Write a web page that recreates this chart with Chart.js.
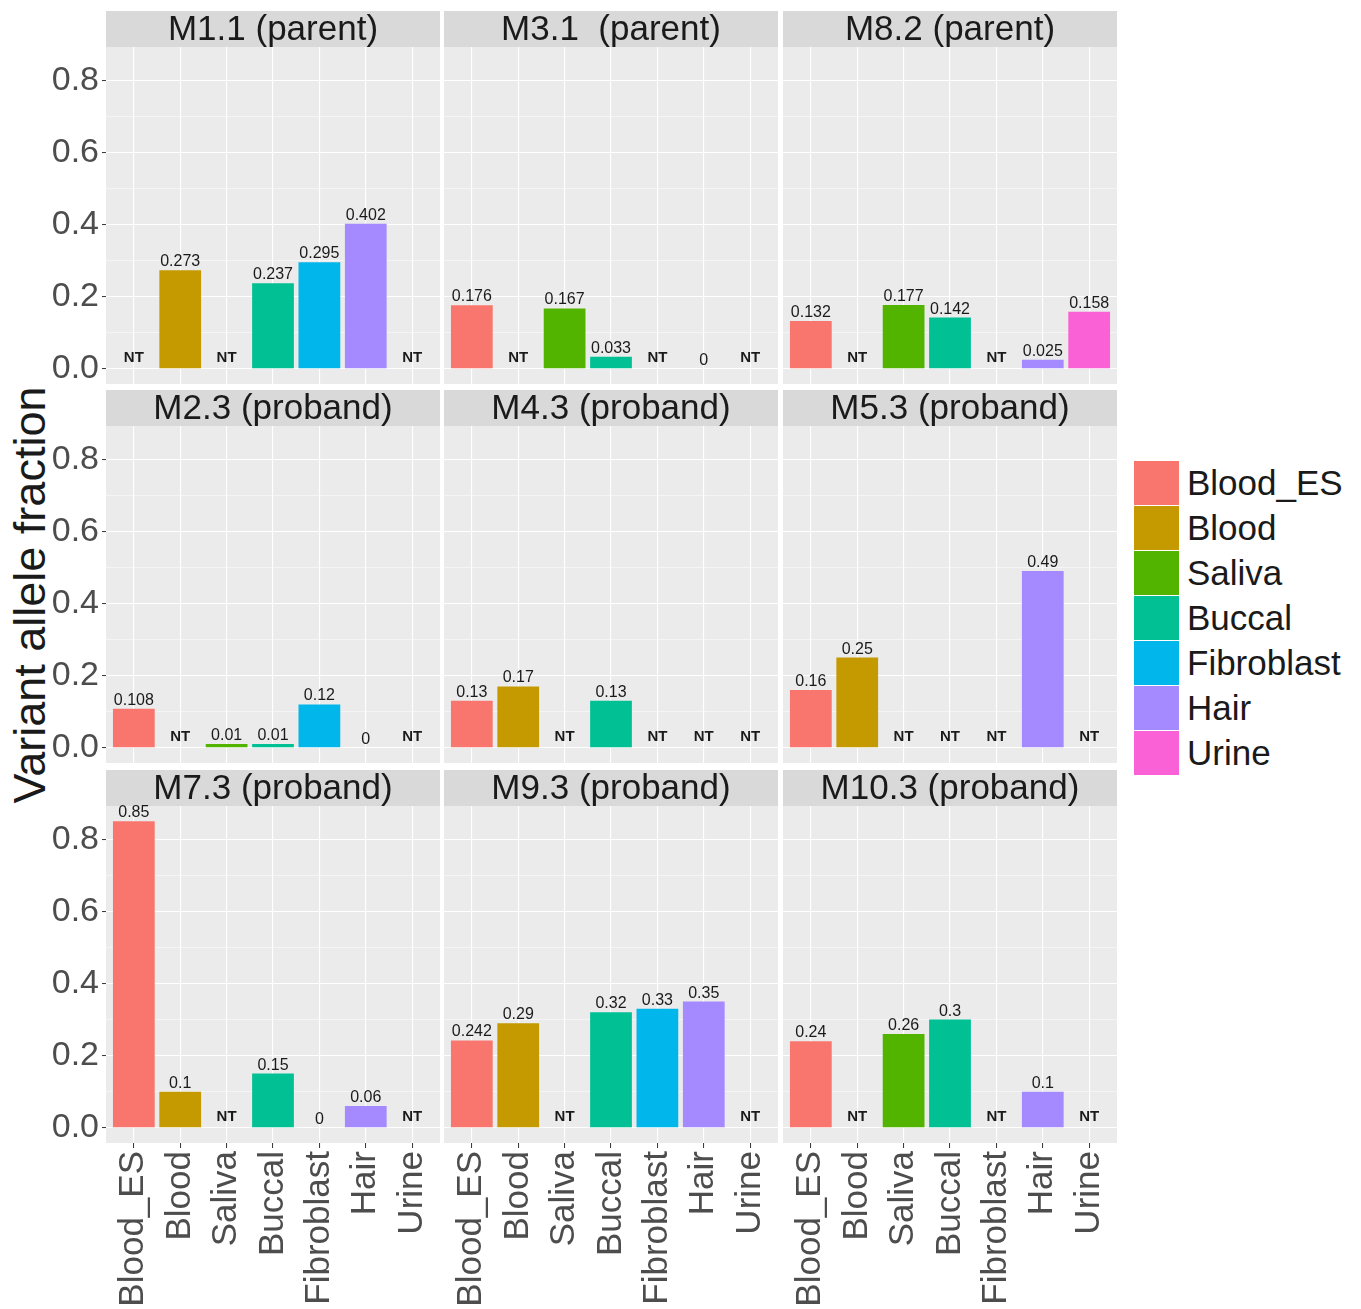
<!DOCTYPE html>
<html>
<head>
<meta charset="utf-8">
<script src="https://cdn.jsdelivr.net/npm/chart.js@4/dist/chart.umd.min.js"></script>
<style>
  body { margin: 0; background: #fff; width: 1361px; height: 1309px; position: relative; overflow: hidden;
         font-family: "Liberation Sans", Arial, sans-serif; }
  canvas { position: absolute; }
  #ylab { position: absolute; left: -270px; top: 570px; width: 600px; height: 50px; line-height: 50px;
          text-align: center; font-size: 45px; color: #1a1a1a; transform: rotate(-90deg); }
  #legend { position: absolute; left: 1134px; top: 460px; }
  .item { height: 45px; display: flex; align-items: center; }
  .key { width: 45px; height: 44px; margin-right: 8px; }
  .item span { font-size: 35px; color: #1a1a1a; }
</style>
</head>
<body>
<div id="ylab">Variant allele fraction</div>
<div id="legend"></div>
<script>
const tissues = ["Blood_ES", "Blood", "Saliva", "Buccal", "Fibroblast", "Hair", "Urine"];
const tissueColors = ["#F8766D", "#C49A00", "#53B400", "#00C094", "#00B6EB", "#A58AFF", "#FB61D7"];
const panelTitles = ["M1.1 (parent)", "M3.1  (parent)", "M8.2 (parent)",
                     "M2.3 (proband)", "M4.3 (proband)", "M5.3 (proband)",
                     "M7.3 (proband)", "M9.3 (proband)", "M10.3 (proband)"];
const yTicks = [0, 0.2, 0.4, 0.6, 0.8];

// null = not tested (NT)
const m1_1 = [null, 0.273, null, 0.237, 0.295, 0.402, null];
const m3_1 = [0.176, null, 0.167, 0.033, null, 0, null];
const m8_2 = [0.132, null, 0.177, 0.142, null, 0.025, 0.158];
const m2_3 = [0.108, null, 0.01, 0.01, 0.12, 0, null];
const m4_3 = [0.13, 0.17, null, 0.13, null, null, null];
const m5_3 = [0.16, 0.25, null, null, null, 0.49, null];
const m7_3 = [0.85, 0.1, null, 0.15, 0, 0.06, null];
const m9_3 = [0.242, 0.29, null, 0.32, 0.33, 0.35, null];
const m10_3 = [0.24, null, 0.26, 0.3, null, 0.1, null];
const panelValues = [m1_1, m3_1, m8_2, m2_3, m4_3, m5_3, m7_3, m9_3, m10_3];

const FONT = "'Liberation Sans', Arial, sans-serif";
const STRIP_H = 36, PANEL_H = 337, PANEL_W = 334;
const Y_AXIS_W = 106, X_AXIS_H = 165;
const panelLeft = [106, 444, 783];
const stripTop = [11, 390, 770];

const isMajor = v => yTicks.some(t => Math.abs(t - v) < 1e-6);

const stripPlugin = {
    id: "strip",
    beforeDraw(chart, args, opts) {
        const ctx = chart.ctx, a = chart.chartArea;
        ctx.save();
        ctx.fillStyle = "#D9D9D9";
        ctx.fillRect(a.left, a.top - STRIP_H, a.right - a.left, STRIP_H);
        ctx.fillStyle = "#EBEBEB";
        ctx.fillRect(a.left, a.top, a.right - a.left, a.bottom - a.top);
        ctx.fillStyle = "#1a1a1a";
        ctx.font = "35px " + FONT;
        ctx.textAlign = "center";
        ctx.textBaseline = "middle";
        ctx.fillText(opts.title, (a.left + a.right) / 2, a.top - STRIP_H / 2 + 1);
        ctx.restore();
    }
};

const labelPlugin = {
    id: "barLabels",
    afterDatasetsDraw(chart) {
        const ctx = chart.ctx, xs = chart.scales.x, ys = chart.scales.y;
        ctx.save();
        ctx.textAlign = "center";
        ctx.fillStyle = "#1a1a1a";
        chart.data.datasets[0].data.forEach(d => {
            const x = xs.getPixelForValue(d.x);
            if (d.y === null) {
                ctx.font = "bold 15px " + FONT;
                ctx.fillText("NT", x, ys.getPixelForValue(0) - 7);
            } else {
                ctx.font = "16px " + FONT;
                ctx.fillText(String(d.y), x, ys.getPixelForValue(d.y) - 4);
            }
        });
        ctx.restore();
    }
};

panelValues.forEach((values, idx) => {
    const r = Math.floor(idx / 3), c = idx % 3;
    const canvas = document.createElement("canvas");
    const w = PANEL_W + (c === 0 ? Y_AXIS_W : 0);
    const h = STRIP_H + PANEL_H + (r === 2 ? X_AXIS_H : 0);
    canvas.width = w;
    canvas.height = h;
    canvas.style.left = (c === 0 ? 0 : panelLeft[c]) + "px";
    canvas.style.top = stripTop[r] + "px";
    document.body.appendChild(canvas);

    new Chart(canvas, {
        type: "bar",
        data: {
            datasets: [{
                data: values.map((v, i) => ({ x: i + 1, y: v })),
                backgroundColor: tissueColors,
                borderWidth: 0,
                categoryPercentage: 0.9,
                barPercentage: 1.0
            }]
        },
        options: {
            responsive: false,
            animation: false,
            layout: { padding: { top: STRIP_H, left: 0, right: 0, bottom: 0 } },
            plugins: {
                legend: { display: false },
                tooltip: { enabled: false },
                strip: { title: panelTitles[idx] }
            },
            scales: {
                x: {
                    type: "linear",
                    min: 0.4,
                    max: 7.6,
                    offset: false,
                    border: { display: false },
                    grid: { offset: false, color: "#ffffff", lineWidth: 1.1, drawTicks: r === 2, tickLength: 5, tickColor: "#333333", tickWidth: 1 },
                    ticks: {
                        stepSize: 1,
                        includeBounds: false,
                        autoSkip: false,
                        display: r === 2,
                        minRotation: 90,
                        maxRotation: 90,
                        padding: 3,
                        color: "#4d4d4d",
                        font: { size: 35, family: FONT },
                        callback: v => tissues[Math.round(v) - 1]
                    },
                    afterFit: s => {
                        s.height = r === 2 ? X_AXIS_H : 0;
                        s.paddingLeft = 0;
                        s.paddingRight = 0;
                    }
                },
                y: {
                    min: -0.0425,
                    max: 0.8925,
                    border: { display: false },
                    grid: {
                        color: "#ffffff",
                        lineWidth: ctx => isMajor(ctx.tick.value) ? 1.1 : 0.5,
                        drawTicks: c === 0,
                        tickLength: 4,
                        tickWidth: 1,
                        tickColor: ctx => isMajor(ctx.tick.value) ? "#333333" : "rgba(0,0,0,0)"
                    },
                    ticks: {
                        stepSize: 0.1,
                        includeBounds: false,
                        autoSkip: false,
                        display: c === 0,
                        padding: 3,
                        color: "#4d4d4d",
                        font: { size: 34, family: FONT },
                        callback: v => isMajor(v) ? v.toFixed(1) : ""
                    },
                    afterFit: s => {
                        s.width = c === 0 ? Y_AXIS_W : 0;
                        s.paddingTop = 0;
                        s.paddingBottom = 0;
                    }
                }
            }
        },
        plugins: [stripPlugin, labelPlugin]
    });
});

const legend = document.getElementById("legend");
tissues.forEach((t, i) => {
    const item = document.createElement("div");
    item.className = "item";
    item.innerHTML = '<div class="key" style="background:' + tissueColors[i] + '"></div><span>' + t + "</span>";
    legend.appendChild(item);
});
</script>
</body>
</html>
